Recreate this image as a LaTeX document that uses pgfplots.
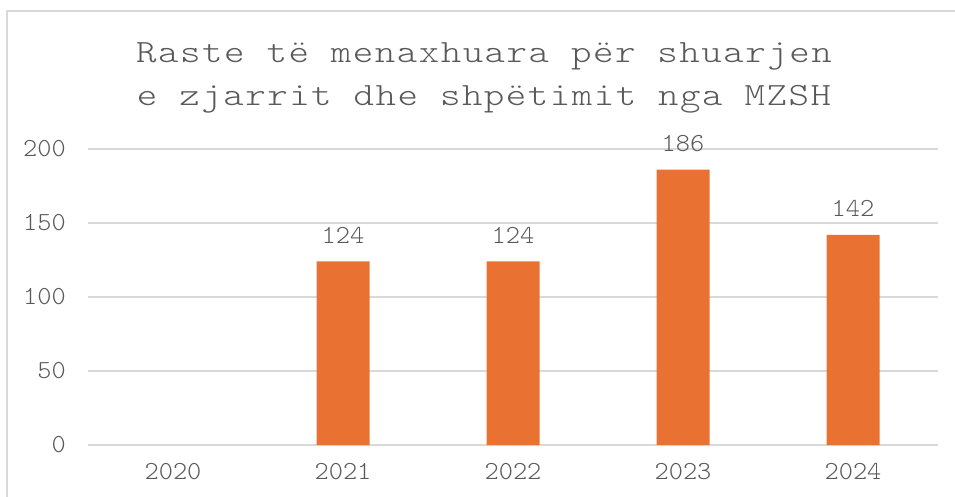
\documentclass[border=0pt]{standalone}
\usepackage{fontspec}
\usepackage{pgfplots}
\pgfplotsset{compat=1.18}
\newfontfamily\titlefont{lmmonolt10-regular.otf}[FakeStretch=1.2,LetterSpace=4.6]
\newfontfamily\tickfont{lmmonolt10-regular.otf}[FakeStretch=1.04]
\definecolor{txtgray}{HTML}{595959}
\definecolor{gridgray}{HTML}{D9D9D9}
\definecolor{barorange}{HTML}{E97132}
\begin{document}
\begin{tikzpicture}[x=1pt,y=1pt]
\useasboundingbox (0,0) rectangle (955,-497);
\begin{scope}
\clip (0,0) rectangle (955,-497);
\draw[gridgray, line width=2pt] (7,-600) -- (7,-11) -- (1000,-11);
\end{scope}
\node[anchor=base, text=txtgray, font=\titlefont\fontsize{32.5}{38}\selectfont, inner sep=0pt] at (484,-63) {Raste të menaxhuara për shuarjen};
\node[anchor=base, text=txtgray, font=\titlefont\fontsize{32.5}{38}\selectfont, inner sep=0pt] at (484,-106) {e zjarrit dhe shpëtimit nga MZSH};
\begin{axis}[
  at={(88pt,-445pt)}, anchor=south west,
  scale only axis, width=850pt, height=296pt,
  xmin=-0.5, xmax=4.5, ymin=0, ymax=200,
  axis line style={draw=none},
  major tick length=0pt,
  ymajorgrids, grid style={gridgray, line width=1.3pt},
  ytick={0,50,100,150,200},
  xtick={0,1,2,3,4},
  xticklabels={2020,2021,2022,2023,2024},
  /pgf/number format/assume math mode=true,
  ticklabel style={font=\tickfont\fontsize{26}{30}\selectfont, text=txtgray, inner sep=0pt},
  yticklabel style={anchor=east, xshift=-22pt},
  xticklabel style={anchor=north, yshift=-18pt},
  ybar, bar width=53pt,
  nodes near coords,
  every node near coord/.append style={font=\tickfont\fontsize{26}{30}\selectfont, text=txtgray, anchor=south, inner sep=0pt, yshift=18pt},
]
\addplot[fill=barorange, draw=none] coordinates {(1,124) (2,124) (3,186) (4,142)};
\end{axis}
\end{tikzpicture}
\end{document}
